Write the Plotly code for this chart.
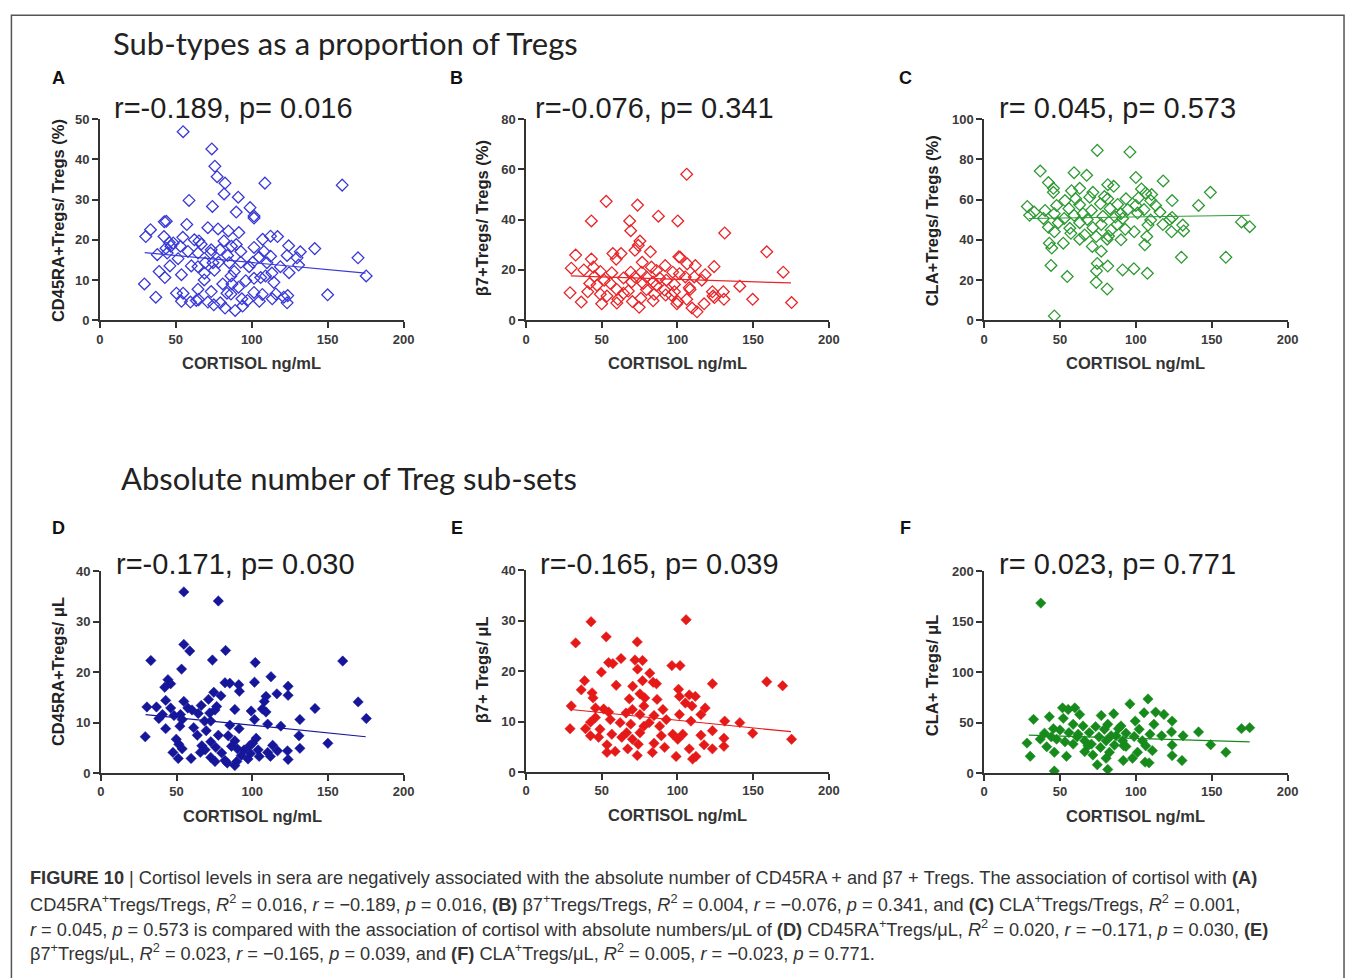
import plotly.graph_objects as go

W, H = 1357, 978

# ---------------- data ----------------
A_x = [54.8,73.7,75.7,77.2,82.4,108.7,159.6,81.8,91.1,58.7,74.1,98.9,89.8,101.5,101.5,42.4,43.7,57.2,71.1,77.8,84.6,33.3,91.5,30.2,42.2,54.6,107.2,112.4,117.0,81.7,45.7,48.3,62.2,65.2,66.7,89.8,86.7,101.5,141.5,124.3,46.7,53.0,73.3,79.1,132.0,43.5,44.3,58.0,64.6,72.9,92.8,108.0,112.4,123.3,170.0,37.8,51.5,84.1,104.8,129.8,69.3,78.1,85.2,92.8,100.7,110.0,130.9,46.1,60.2,64.6,98.3,118.9,75.4,88.5,39.0,68.9,124.6,113.3,53.7,86.3,109.1,175.4,42.8,101.5,105.9,68.7,96.1,114.6,29.3,80.9,87.0,64.6,91.3,73.3,50.4,54.8,83.7,101.5,107.0,115.9,123.7,150.0,36.8,65.0,93.5,97.2,113.5,53.7,63.5,59.6,71.1,79.3,105.0,123.3,75.0,82.4,94.0,89.1,86.3,121.1,74.5]
A_y = [46.9,42.6,38.3,35.7,34.1,34.1,33.6,31.4,30.6,29.8,28.3,28.0,26.9,25.9,25.4,24.5,24.6,23.8,23.0,22.7,22.2,22.5,21.8,20.8,20.8,20.6,20.1,20.9,20.8,19.7,19.3,19.2,20.0,19.7,18.9,18.8,18.4,18.1,17.8,18.5,18.4,18.4,17.5,17.5,17.0,17.9,16.7,17.1,16.7,16.7,17.1,17.1,15.9,16.1,15.5,16.3,15.3,16.1,15.7,15.5,14.3,14.4,14.3,14.4,14.4,14.3,13.7,13.5,13.5,13.3,13.3,13.3,12.4,12.1,12.1,11.7,11.8,11.7,11.3,11.0,11.0,11.0,10.6,10.4,10.6,10.0,9.8,9.4,9.0,9.0,9.0,7.7,8.2,7.1,6.7,6.7,6.7,6.9,6.4,6.5,6.1,6.3,5.7,5.1,5.3,4.9,5.3,4.7,4.9,4.5,4.5,4.3,4.7,4.3,3.8,3.0,3.5,2.4,6.5,5.7,14.3]

B_x = [106.1,52.9,73.6,87.4,43.1,68.4,100.2,69.1,131.2,75.2,74.1,71.9,32.7,57.3,62.7,59.5,43.1,82.1,100.9,101.8,159.0,106.4,111.8,124.2,76.7,29.8,38.1,44.4,169.9,91.9,82.8,96.9,49.0,56.6,69.1,76.3,86.1,101.3,118.3,45.1,64.3,71.9,79.5,88.2,105.2,111.1,51.6,83.9,92.6,116.1,42.0,46.8,55.6,77.3,86.0,98.0,141.2,107.8,59.9,67.5,79.5,91.5,108.3,29.0,40.7,49.0,53.4,64.3,84.7,92.2,98.0,123.1,130.3,123.5,124.4,75.8,106.1,60.6,130.7,149.7,70.2,83.9,36.4,49.9,59.9,99.6,117.6,175.4,74.7,109.6,112.9,95.9,100.2,69.7]
B_y = [58.1,47.3,45.8,41.4,39.5,39.5,39.5,35.6,34.7,31.5,29.8,27.8,25.9,26.5,26.5,24.3,24.3,27.2,25.2,25.0,27.2,22.4,21.7,21.3,23.0,20.7,20.0,21.1,19.1,21.7,21.1,19.1,19.4,18.9,19.1,19.1,19.8,18.5,18.1,17.4,16.8,17.2,17.2,16.8,17.2,17.2,15.9,15.2,15.9,15.9,14.6,13.9,14.6,14.6,13.9,14.2,13.5,12.9,12.2,11.6,12.2,12.0,12.2,10.9,11.3,10.3,9.6,10.7,10.3,10.0,11.3,11.3,11.3,9.6,9.0,8.7,8.3,8.3,8.3,8.3,7.4,7.7,7.2,6.5,6.8,6.5,6.5,7.0,5.1,4.8,3.3,10.0,7.4,15.2]

C_x = [74.6,96.1,37.0,59.3,67.6,100.0,118.0,42.4,81.5,85.4,45.7,63.0,103.7,149.1,57.6,71.7,106.5,45.7,110.4,79.3,60.4,69.6,81.5,93.5,101.7,123.9,53.3,109.8,141.3,47.8,63.0,76.7,88.0,100.0,113.0,28.5,55.9,70.7,83.0,94.6,105.4,40.2,33.0,46.3,65.2,90.2,101.1,115.9,30.0,59.3,78.3,86.5,123.9,39.1,52.8,68.0,91.3,109.8,122.4,169.6,48.9,63.0,77.2,87.6,108.0,117.8,130.9,175.0,42.4,56.5,71.7,83.7,93.0,98.9,123.5,131.5,46.3,57.2,66.3,73.9,82.0,90.2,107.2,63.0,81.1,52.2,43.0,105.9,44.6,71.3,77.2,130.0,159.3,44.1,74.6,81.5,74.1,91.3,98.7,107.6,54.8,73.9,81.1,46.3]
C_y = [84.5,83.7,74.2,73.4,72.1,71.0,69.3,68.5,67.4,66.6,65.6,65.6,65.3,63.6,64.4,63.6,63.3,63.6,62.5,61.5,60.4,61.2,60.4,60.4,60.8,59.5,59.5,59.5,57.1,57.1,57.4,57.9,57.6,57.1,57.1,56.6,55.5,54.6,55.5,55.0,55.0,54.6,53.8,53.0,53.0,53.0,53.3,53.8,52.2,52.2,51.7,51.4,51.1,50.6,50.6,50.1,50.6,49.8,50.1,48.9,48.5,48.5,47.6,47.6,47.3,47.6,47.3,46.5,46.2,45.7,46.0,44.9,45.2,44.0,44.0,44.4,44.0,43.2,42.4,41.6,41.9,40.0,41.6,40.3,40.3,38.3,38.3,37.5,35.9,36.7,34.3,31.3,31.3,27.2,28.2,26.9,24.5,25.0,25.6,23.3,21.7,18.8,15.5,2.1]

D_x = [54.8,77.6,54.8,58.7,82.4,33.0,73.7,159.8,102.0,53.3,112.4,44.3,46.1,82.0,85.2,91.1,101.5,123.7,42.2,91.5,116.3,123.7,74.6,79.3,109.1,71.1,42.8,54.8,170.0,108.0,66.3,30.4,36.7,57.4,76.5,141.5,46.1,60.2,75.4,88.5,99.3,106.7,109.1,64.3,71.9,40.7,48.3,52.6,38.3,53.7,131.5,175.4,68.5,101.5,72.6,52.2,85.2,110.2,118.9,61.3,91.3,42.8,69.6,77.6,130.9,29.3,63.7,84.1,102.6,49.8,88.5,72.6,100.2,150.0,51.5,66.7,86.3,98.3,113.5,90.2,53.7,75.9,103.9,131.5,68.9,94.6,110.2,116.7,47.6,123.3,79.8,65.7,98.9,104.6,92.8,51.1,59.6,72.6,112.0,123.7,82.0,75.4,89.8,83.5,88.5,97.2]
D_y = [35.9,34.1,25.5,24.2,24.3,22.3,22.4,22.2,21.9,20.6,19.1,18.5,17.7,17.9,17.8,17.5,18.0,17.2,17.0,16.2,15.7,15.4,16.0,15.3,15.2,14.6,14.4,14.2,14.1,14.2,13.4,13.1,13.1,12.9,13.2,12.8,12.9,12.5,12.5,12.6,12.3,12.7,12.1,11.8,11.9,11.6,11.4,11.6,10.8,10.6,10.6,10.8,10.3,10.6,10.3,9.3,9.5,9.7,9.3,9.0,8.8,8.8,8.4,7.5,7.4,7.2,7.5,7.4,6.9,6.7,6.4,6.2,5.9,5.9,5.7,5.4,5.3,5.4,5.5,4.8,4.8,5.1,4.6,4.9,4.6,4.6,4.1,4.4,4.1,4.4,4.0,4.1,3.9,3.3,3.5,2.9,2.9,3.1,3.3,2.7,2.5,2.3,2.3,2.0,1.5,2.8]

E_x = [105.7,42.9,52.9,32.7,73.4,62.7,71.9,76.9,54.5,57.3,96.3,101.7,73.6,49.7,81.7,159.0,38.6,76.9,83.9,86.1,123.1,169.5,59.5,70.4,36.4,100.7,68.2,43.6,44.2,75.2,107.8,111.8,101.3,78.4,86.5,105.2,29.8,77.8,109.6,118.3,45.8,51.2,70.2,90.4,54.5,66.0,101.3,115.5,75.2,84.5,45.8,55.6,92.6,108.9,131.2,42.5,62.1,81.3,141.2,69.1,77.8,88.2,39.2,29.0,123.1,48.8,56.6,66.4,75.2,89.3,96.9,103.5,149.7,115.5,42.5,47.9,63.2,100.2,130.7,175.4,70.2,84.5,53.4,117.6,130.7,74.1,91.5,123.1,67.1,53.4,58.8,83.4,107.8,73.4,99.1,110.0,112.2]
E_y = [30.2,29.8,26.8,25.6,25.8,22.5,22.2,22.1,21.7,21.5,21.1,21.1,20.4,19.8,19.6,17.9,18.1,18.1,17.8,17.5,17.5,17.1,17.2,17.0,16.3,16.4,14.5,15.7,14.7,15.5,15.3,15.0,15.0,14.7,14.4,13.7,13.1,13.1,13.1,12.7,12.7,12.5,12.4,12.4,11.9,11.7,11.4,11.4,11.4,11.2,10.8,10.4,10.4,10.1,10.1,9.9,9.8,9.8,9.8,9.5,9.1,9.1,8.6,8.6,8.2,8.5,7.5,7.8,7.8,7.2,7.5,7.5,7.7,7.3,7.2,6.9,6.9,6.5,6.7,6.5,6.5,5.7,5.4,5.4,5.1,5.5,4.9,4.6,4.6,3.9,4.1,3.9,4.6,3.3,3.1,2.6,3.1]

F_x = [37.4,108.0,96.1,51.7,59.8,55.4,63.0,77.2,85.4,113.0,118.5,105.4,43.0,52.2,32.6,123.9,99.6,169.6,175.0,81.5,90.2,58.7,65.2,73.5,111.9,141.3,45.7,50.0,79.3,88.5,102.2,123.5,131.1,39.8,55.9,69.3,93.5,109.3,117.0,44.3,61.3,75.7,83.7,98.9,37.0,47.8,53.3,66.3,80.4,91.3,104.3,28.3,58.7,70.7,85.9,149.3,123.9,41.3,76.7,93.5,106.5,110.9,46.3,66.3,82.6,101.1,30.4,54.3,71.7,80.4,97.8,123.9,159.3,91.7,106.1,108.7,130.4,74.6,81.5,46.3,62.0,87.0,68.5,92.0]
F_y = [168.4,73.4,68.5,64.6,64.6,63.0,58.1,57.1,58.7,60.4,58.1,59.7,55.8,54.2,53.2,51.5,51.5,44.0,45.0,48.3,46.7,48.3,46.7,46.0,48.3,40.8,44.0,42.7,43.4,44.0,43.4,40.8,36.9,39.5,40.1,40.1,39.5,38.5,36.9,35.9,35.9,35.9,36.9,36.2,33.6,33.6,31.0,32.0,32.0,32.0,32.0,29.7,28.7,28.7,27.7,28.1,27.7,26.1,25.4,26.4,27.1,22.2,20.6,21.2,20.6,20.6,16.6,16.6,17.9,14.7,14.7,17.3,20.6,12.4,10.8,10.1,12.4,8.2,3.6,2.0,38.5,36.9,27.1,27.1]

# regression lines (end points)
fit_x = [29.5, 175.0]
A_fit = [16.8, 11.7]
B_fit = [17.6, 14.8]
C_fit = [50.6, 52.2]
D_fit = [11.6, 7.2]
E_fit = [12.4, 8.0]
F_fit = [37.5, 31.0]

x_ticks = [0, 50, 100, 150, 200]
stats = ["r=-0.189, p= 0.016", "r=-0.076, p= 0.341", "r= 0.045, p= 0.573",
         "r=-0.171, p= 0.030", "r=-0.165, p= 0.039", "r= 0.023, p= 0.771"]
y_titles = ["CD45RA+Tregs/ Tregs (%)", "β7+Tregs/ Tregs (%)", "CLA+Tregs/ Tregs (%)",
            "CD45RA+Tregs/ μL", "β7+ Tregs/ μL", "CLA+ Tregs/ μL"]
y_max = [50, 80, 100, 40, 40, 200]
y_dtick = [10, 20, 20, 10, 10, 50]
letters = ["A", "B", "C", "D", "E", "F"]
headers = ["Sub-types as a proportion of Tregs", "Absolute number of Treg sub-sets"]

# ---------------- styling / layout ----------------
def PX(x):
    return x / W

def PY(y):
    return 1 - y / H

panels = [
    # x0, x1 (px), y_bottom, y_top (px)
    (97, 404, 318, 114),
    (528, 834, 318, 114),
    (991, 1298, 318, 114),
    (98, 404, 778, 573),
    (528, 834, 777, 572),
    (991, 1298, 778, 573),
]
stat_cx = [232, 658, 1126, 234, 663, 1126]
ytitle_cx = [54, 483, 938, 54, 483, 938]
ytitle_cy = [217, 215, 217, 675, 673, 679]
letter_pos = [(55, 72), (458, 72), (912, 72), (55, 529), (458, 529), (912, 529)]
colors = ["#3a3ad6", "#e8262a", "#2f9a34", "#16169a", "#e61919", "#178a1c"]
filled = [False, False, False, True, True, True]
xs = [A_x, B_x, C_x, D_x, E_x, F_x]
ys = [A_y, B_y, C_y, D_y, E_y, F_y]
fits = [A_fit, B_fit, C_fit, D_fit, E_fit, F_fit]

fig = go.Figure()
annotations = []
layout = dict(
    width=W, height=H, margin=dict(l=0, r=0, t=0, b=0),
    paper_bgcolor="white", plot_bgcolor="white", showlegend=False,
)

axis_color = "#333333"
tickfont = dict(family="Arial, Liberation Sans", size=13, color="#3a3a3a", weight="bold")

for i in range(6):
    n = "" if i == 0 else str(i + 1)
    x0, x1, yb, yt = panels[i]
    layout["xaxis" + n] = dict(
        domain=[PX(x0), PX(x1)], range=[0, 200], tickvals=x_ticks,
        anchor="y" + n, showgrid=False, zeroline=False, showline=True,
        linecolor=axis_color, linewidth=1.6, ticks="outside", ticklen=6,
        tickwidth=1.6, tickcolor=axis_color, tickfont=tickfont, fixedrange=True,
    )
    layout["yaxis" + n] = dict(
        domain=[PY(yb), PY(yt)], range=[0, y_max[i]], dtick=y_dtick[i], tick0=0,
        anchor="x" + n, showgrid=False, zeroline=False, showline=True,
        linecolor=axis_color, linewidth=1.6, ticks="outside", ticklen=6,
        tickwidth=1.6, tickcolor=axis_color, tickfont=tickfont, fixedrange=True,
    )
    if filled[i]:
        marker = dict(symbol="diamond", size=8, color=colors[i],
                      line=dict(width=0.5, color=colors[i]))
    else:
        marker = dict(symbol="diamond-open", size=9, color=colors[i],
                      line=dict(width=1.3, color=colors[i]))
    fig.add_trace(go.Scatter(x=xs[i], y=ys[i], mode="markers", marker=marker,
                             xaxis="x" + n, yaxis="y" + n, hoverinfo="skip"))
    fig.add_trace(go.Scatter(x=fit_x, y=fits[i], mode="lines",
                             line=dict(color=colors[i], width=1.2),
                             xaxis="x" + n, yaxis="y" + n, hoverinfo="skip"))

    # stats text
    row_y = 103 if i < 3 else 566
    annotations.append(dict(
        x=PX(stat_cx[i]), y=PY(row_y), xref="paper", yref="paper", showarrow=False,
        text=stats[i], font=dict(family="Arial, Liberation Sans", size=29, color="#1e1e1e"),
        xanchor="center", yanchor="middle"))
    # x title
    annotations.append(dict(
        x=PX((x0 + x1) / 2), y=PY(yb + 44), xref="paper", yref="paper",
        showarrow=False, text="CORTISOL ng/mL",
        font=dict(family="Arial, Liberation Sans", size=16.5, color="#333333", weight="bold"),
        xanchor="center", yanchor="middle"))
    # y title
    annotations.append(dict(
        x=PX(ytitle_cx[i]), y=PY(ytitle_cy[i]), xref="paper", yref="paper",
        showarrow=False, text=y_titles[i], textangle=-90,
        font=dict(family="Arial, Liberation Sans", size=16.5, color="#222222", weight="bold"),
        xanchor="center", yanchor="middle"))
    # panel letter
    lx, ly = letter_pos[i]
    annotations.append(dict(
        x=PX(lx), y=PY(ly), xref="paper", yref="paper", showarrow=False,
        text=letters[i],
        font=dict(family="Arial, Liberation Sans", size=18, color="#111111", weight="bold"),
        xanchor="center", yanchor="middle"))

# section headers
annotations.append(dict(x=PX(108), y=PY(37), xref="paper", yref="paper", showarrow=False,
                        text=headers[0], xanchor="left", yanchor="middle",
                        font=dict(family="Lato, Open Sans", size=31, color="#222222")))
annotations.append(dict(x=PX(116), y=PY(478), xref="paper", yref="paper", showarrow=False,
                        text=headers[1], xanchor="left", yanchor="middle",
                        font=dict(family="Lato, Open Sans", size=31, color="#222222")))

caption = [
    "<b>FIGURE 10</b> | Cortisol levels in sera are negatively associated with the absolute number of CD45RA + and β7 + Tregs. The association of cortisol with <b>(A)</b>",
    "CD45RA<sup>+</sup>Tregs/Tregs, <i>R</i><sup>2</sup> = 0.016, <i>r</i> = −0.189, <i>p</i> = 0.016, <b>(B)</b> β7<sup>+</sup>Tregs/Tregs, <i>R</i><sup>2</sup> = 0.004, <i>r</i> = −0.076, <i>p</i> = 0.341, and <b>(C)</b> CLA<sup>+</sup>Tregs/Tregs, <i>R</i><sup>2</sup> = 0.001,",
    "<i>r</i> = 0.045, <i>p</i> = 0.573 is compared with the association of cortisol with absolute numbers/μL of <b>(D)</b> CD45RA<sup>+</sup>Tregs/μL, <i>R</i><sup>2</sup> = 0.020, <i>r</i> = −0.171, <i>p</i> = 0.030, <b>(E)</b>",
    "β7<sup>+</sup>Tregs/μL, <i>R</i><sup>2</sup> = 0.023, <i>r</i> = −0.165, <i>p</i> = 0.039, and <b>(F)</b> CLA<sup>+</sup>Tregs/μL, <i>R</i><sup>2</sup> = 0.005, <i>r</i> = −0.023, <i>p</i> = 0.771.",
]
for j, line in enumerate(caption):
    annotations.append(dict(x=PX(24), y=PY(885 + 25 * j), xref="paper", yref="paper",
                            showarrow=False, text=line, xanchor="left", yanchor="middle",
                            font=dict(family="Liberation Sans, Arial", size=18.2, color="#333333")))

layout["annotations"] = annotations
layout["shapes"] = [dict(type="rect", xref="paper", yref="paper",
                         x0=PX(7.5), x1=PX(1355), y0=PY(990), y1=PY(8.5),
                         line=dict(color="#555555", width=1.5), fillcolor="rgba(0,0,0,0)")]
fig.update_layout(**layout)
fig.write_html("out.html")
